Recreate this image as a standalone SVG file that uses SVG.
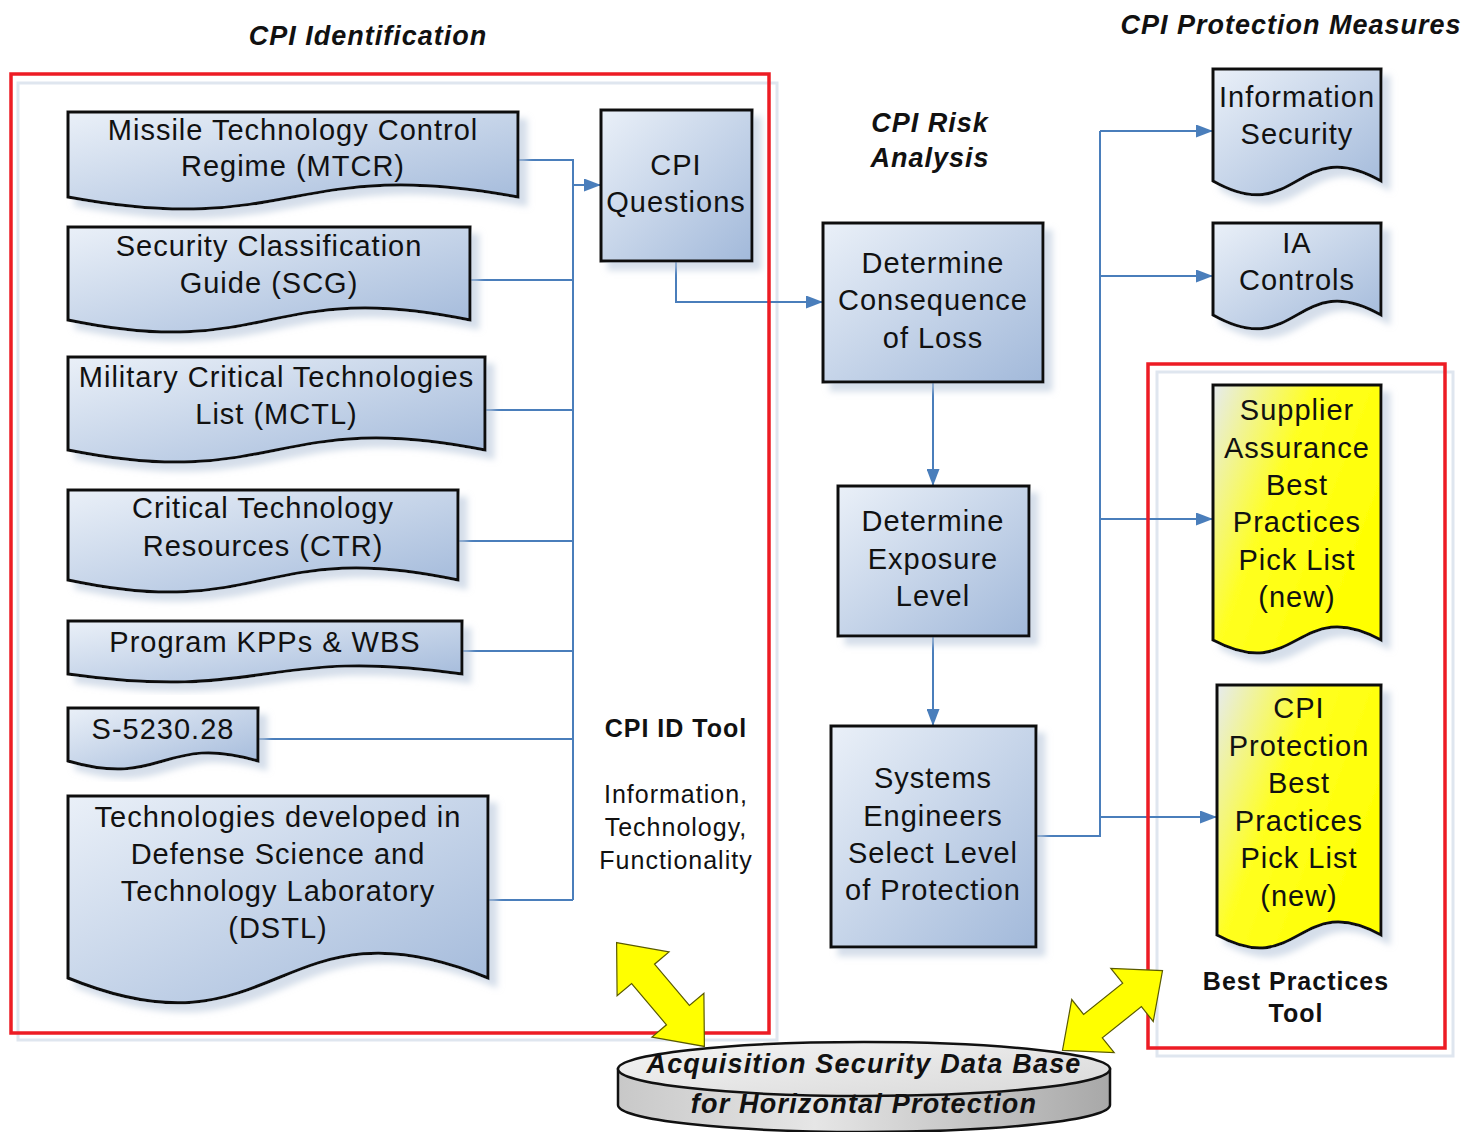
<svg xmlns="http://www.w3.org/2000/svg" width="1464" height="1132" viewBox="0 0 1464 1132">
<defs>
<style>
.t{font-family:"Liberation Sans",Arial,sans-serif;font-size:29px;letter-spacing:1px;fill:#111;text-anchor:middle}
.s{font-family:"Liberation Sans",Arial,sans-serif;font-size:25px;letter-spacing:1px;fill:#111;text-anchor:middle}
.sb{font-family:"Liberation Sans",Arial,sans-serif;font-size:25px;font-weight:bold;letter-spacing:1px;fill:#111;text-anchor:middle}
.h{font-family:"Liberation Sans",Arial,sans-serif;font-size:27px;font-weight:bold;font-style:italic;letter-spacing:1px;fill:#111;text-anchor:middle}
.db{font-family:"Liberation Sans",Arial,sans-serif;font-size:27px;font-weight:bold;font-style:italic;letter-spacing:1.2px;fill:#111;text-anchor:middle}
.box{fill:url(#gBlue);stroke:#111;stroke-width:3;filter:url(#shadow)}
.ybox{fill:url(#gYel);stroke:#111;stroke-width:3;filter:url(#shadow)}
.con{fill:none;stroke:#4a7ebb;stroke-width:2}
.arr{marker-end:url(#ah)}
.red{fill:none;stroke:#ed1c24;stroke-width:3.5}
.pale{fill:none;stroke:#dfe6ef;stroke-width:3}
.yarr{fill:#ffff00;stroke:#5a5a00;stroke-width:1.2}
</style>
<linearGradient id="gBlue" x1="0" y1="0" x2="1" y2="1">
<stop offset="0" stop-color="#eaf0f8"/>
<stop offset="1" stop-color="#a2b9da"/>
</linearGradient>
<linearGradient id="gYel" x1="0" y1="0" x2="1" y2="0.6">
<stop offset="0" stop-color="#e6ebf0"/>
<stop offset="0.45" stop-color="#ffff20"/>
<stop offset="1" stop-color="#ffff00"/>
</linearGradient>
<linearGradient id="gCylSide" x1="0" y1="0" x2="1" y2="0">
<stop offset="0" stop-color="#c8c8c8"/>
<stop offset="0.4" stop-color="#e6e6e6"/>
<stop offset="1" stop-color="#a8a8a8"/>
</linearGradient>
<linearGradient id="gCylTop" x1="0" y1="0" x2="1" y2="1">
<stop offset="0" stop-color="#f4f4f4"/>
<stop offset="1" stop-color="#d8d8d8"/>
</linearGradient>
<filter id="shadow" x="-5%" y="-5%" width="125%" height="125%">
<feOffset in="SourceAlpha" dx="8" dy="8" result="o"/>
<feGaussianBlur in="o" stdDeviation="3" result="b"/>
<feFlood flood-color="#b9c8dc" flood-opacity="0.6"/>
<feComposite in2="b" operator="in" result="s"/>
<feMerge><feMergeNode in="s"/><feMergeNode in="SourceGraphic"/></feMerge>
</filter>
<marker id="ah" markerUnits="userSpaceOnUse" markerWidth="17" markerHeight="13" refX="17" refY="6.5" orient="auto">
<path d="M0,0 L17,6.5 L0,13 z" fill="#4a7ebb"/>
</marker>
</defs>

<rect width="1464" height="1132" fill="#ffffff"/>

<!-- group frames -->
<g id="frames">
<rect class="pale" x="18" y="83" width="759" height="957"/>
<rect class="pale" x="1157" y="372" width="296" height="684"/>
</g>

<!-- titles -->
<g id="titles">
<text class="h" x="368" y="45">CPI Identification</text>
<text class="h" x="930" y="132">CPI Risk</text>
<text class="h" x="930" y="167">Analysis</text>
<text class="h" x="1291" y="34">CPI Protection Measures</text>
</g>

<!-- connectors -->
<g id="connectors">
<path class="con arr" d="M518,160 H573 V185 H601"/>
<path class="con" d="M573,185 V900"/>
<path class="con" d="M470,280 H573"/>
<path class="con" d="M485,410 H573"/>
<path class="con" d="M458,541 H573"/>
<path class="con" d="M462,651 H573"/>
<path class="con" d="M258,739 H573"/>
<path class="con" d="M488,900 H573"/>
<path class="con arr" d="M676,261 V302 H823"/>
<path class="con arr" d="M933,382 V486"/>
<path class="con arr" d="M933,636 V726"/>
<path class="con" d="M1036,836 H1100 V131"/>
<path class="con arr" d="M1100,131 H1213"/>
<path class="con arr" d="M1100,276 H1213"/>
<path class="con arr" d="M1100,519 H1213"/>
<path class="con arr" d="M1100,817 H1217"/>
</g>

<g id="red-frames">
<rect class="red" x="11" y="74" width="758" height="959"/>
<rect class="red" x="1148" y="364" width="297" height="684"/>
</g>

<!-- left documents -->
<g id="mtcr">
<path class="box" d="M68,112 H518 V197 C293,155 293,239 68,197 Z"/>
<text class="t" x="293" y="140">Missile Technology Control</text>
<text class="t" x="293" y="176">Regime (MTCR)</text>
</g>
<g id="scg">
<path class="box" d="M68,227 H470 V320 C269,278 269,362 68,320 Z"/>
<text class="t" x="269" y="256">Security Classification</text>
<text class="t" x="269" y="293">Guide (SCG)</text>
</g>
<g id="mctl">
<path class="box" d="M68,357 H485 V450 C276.5,408 276.5,492 68,450 Z"/>
<text class="t" x="276.5" y="387">Military Critical Technologies</text>
<text class="t" x="276.5" y="424">List (MCTL)</text>
</g>
<g id="ctr">
<path class="box" d="M68,490 H458 V580 C263,538 263,622 68,580 Z"/>
<text class="t" x="263" y="518">Critical Technology</text>
<text class="t" x="263" y="556">Resources (CTR)</text>
</g>
<g id="kpps">
<path class="box" d="M68,621 H462 V674 C265,646 265,702 68,674 Z"/>
<text class="t" x="265" y="652">Program KPPs &amp; WBS</text>
</g>
<g id="s5230">
<path class="box" d="M68,708 H258 V761 C163,733 163,789 68,761 Z"/>
<text class="t" x="163" y="739">S-5230.28</text>
</g>
<g id="dstl">
<path class="box" d="M68,796 H488 V978 C278,892 278,1064 68,978 Z"/>
<text class="t" x="278" y="827">Technologies developed in</text>
<text class="t" x="278" y="864">Defense Science and</text>
<text class="t" x="278" y="901">Technology Laboratory</text>
<text class="t" x="278" y="938">(DSTL)</text>
</g>

<g id="cpi-questions">
<rect class="box" x="601" y="110" width="151" height="151"/>
<text class="t" x="676" y="175">CPI</text>
<text class="t" x="676" y="212">Questions</text>
</g>

<g id="cpi-id-tool">
<text class="sb" x="676" y="737">CPI ID Tool</text>
<text class="s" x="676" y="803">Information,</text>
<text class="s" x="676" y="836">Technology,</text>
<text class="s" x="676" y="869">Functionality</text>
</g>

<!-- risk analysis -->
<g id="consequence">
<rect class="box" x="823" y="223" width="220" height="159"/>
<text class="t" x="933" y="273">Determine</text>
<text class="t" x="933" y="310">Consequence</text>
<text class="t" x="933" y="348">of Loss</text>
</g>
<g id="exposure">
<rect class="box" x="838" y="486" width="191" height="150"/>
<text class="t" x="933" y="531">Determine</text>
<text class="t" x="933" y="569">Exposure</text>
<text class="t" x="933" y="606">Level</text>
</g>
<g id="select-level">
<rect class="box" x="831" y="726" width="205" height="221"/>
<text class="t" x="933" y="788">Systems</text>
<text class="t" x="933" y="826">Engineers</text>
<text class="t" x="933" y="863">Select Level</text>
<text class="t" x="933" y="900">of Protection</text>
</g>

<!-- protection measures -->
<g id="info-security">
<path class="box" d="M1213,69 H1381 V181 C1297,133 1297,229 1213,181 Z"/>
<text class="t" x="1297" y="107">Information</text>
<text class="t" x="1297" y="144">Security</text>
</g>
<g id="ia-controls">
<path class="box" d="M1213,223 H1381 V315 C1297,267 1297,363 1213,315 Z"/>
<text class="t" x="1297" y="253">IA</text>
<text class="t" x="1297" y="290">Controls</text>
</g>
<g id="supplier-assurance">
<path class="ybox" d="M1213,385 H1381 V640 C1297,595 1297,685 1213,640 Z"/>
<text class="t" x="1297" y="420">Supplier</text>
<text class="t" x="1297" y="458">Assurance</text>
<text class="t" x="1297" y="495">Best</text>
<text class="t" x="1297" y="532">Practices</text>
<text class="t" x="1297" y="570">Pick List</text>
<text class="t" x="1297" y="607">(new)</text>
</g>
<g id="cpi-protection">
<path class="ybox" d="M1217,685 H1381 V935 C1299,890 1299,980 1217,935 Z"/>
<text class="t" x="1299" y="718">CPI</text>
<text class="t" x="1299" y="756">Protection</text>
<text class="t" x="1299" y="793">Best</text>
<text class="t" x="1299" y="831">Practices</text>
<text class="t" x="1299" y="868">Pick List</text>
<text class="t" x="1299" y="906">(new)</text>
</g>
<g id="best-practices-tool">
<text class="sb" x="1296" y="990">Best Practices</text>
<text class="sb" x="1296" y="1022">Tool</text>
</g>

<!-- database cylinder -->
<g id="database">
<path d="M618,1069 V1105 A246,27 0 0 0 1110,1105 V1069 Z" fill="url(#gCylSide)" stroke="#111" stroke-width="2.5"/>
<ellipse cx="864" cy="1069" rx="246" ry="27" fill="url(#gCylTop)" stroke="#111" stroke-width="2.5"/>
<text class="db" x="864" y="1073">Acquisition Security Data Base</text>
<text class="db" x="864" y="1113">for Horizontal Protection</text>
</g>

<!-- yellow double arrows -->
<g id="yellow-arrow-left" transform="translate(660.5,994.5) rotate(49.8)">
<polygon class="yarr" points="-68,0 -27,-34 -27,-15 27,-15 27,-34 68,0 27,34 27,15 -27,15 -27,34"/>
</g>
<g id="yellow-arrow-right" transform="translate(1112.5,1010.5) rotate(-38.6)">
<polygon class="yarr" points="-64,0 -25,-34 -25,-15 25,-15 25,-34 64,0 25,34 25,15 -25,15 -25,34"/>
</g>
</svg>
